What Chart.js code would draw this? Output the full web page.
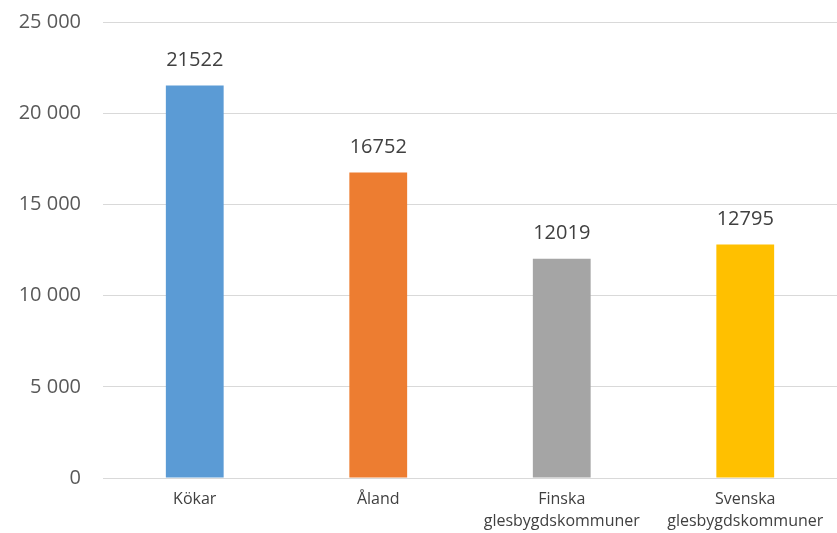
<!DOCTYPE html>
<html><head><meta charset="utf-8">
<script src="https://cdn.jsdelivr.net/npm/chart.js@4/dist/chart.umd.min.js"></script>
<style>html,body{margin:0;padding:0;background:#fff}#wrap{width:837px;height:533px}</style>
</head><body><div id="wrap"><canvas id="c" width="837" height="533"></canvas></div>
<script>
const categories = [["Kökar"], ["Åland"], ["Finska", "glesbygdskommuner"], ["Svenska", "glesbygdskommuner"]];
const values = [21522, 16752, 12019, 12795];
const barColors = ["#5b9bd5", "#ed7d31", "#a5a5a5", "#ffc000"];
const yTicks = [0, 5000, 10000, 15000, 20000, 25000];

const fmt = v => String(v).replace(/\B(?=(\d{3})+(?!\d))/g, " ");

const labelPlugin = {
  id: 'valLabels',
  afterDatasetsDraw(chart) {
    const ctx = chart.ctx;
    const meta = chart.getDatasetMeta(0);
    ctx.save();
    ctx.font = '20px "Open Sans", sans-serif';
    ctx.fillStyle = '#404040';
    ctx.textAlign = 'center';
    ctx.textBaseline = 'bottom';
    meta.data.forEach((bar, i) => {
      ctx.fillText(String(values[i]), bar.x, bar.y - 15);
    });
    ctx.restore();
  }
};

new Chart(document.getElementById('c'), {
  type: 'bar',
  data: { labels: categories, datasets: [{ data: values, backgroundColor: barColors, categoryPercentage: 1, barPercentage: 0.315 }] },
  options: {
    responsive: false, animation: false,
    layout: { padding: { top: 22, right: 0, bottom: 0, left: 0 } },
    plugins: { legend: { display: false }, tooltip: { enabled: false } },
    scales: {
      x: {
        afterFit(axis) { axis.height = 55; axis.paddingLeft = 0; axis.paddingRight = 0; },
        grid: { display: false, drawTicks: false },
        border: { color: '#d9d9d9', width: 1 },
        ticks: { color: '#404040', font: { family: '"Open Sans", sans-serif', size: 16, lineHeight: 1.35 }, padding: 11, maxRotation: 0, autoSkip: false }
      },
      y: {
        min: 0, max: 25000,
        afterBuildTicks(axis) { axis.ticks = yTicks.map(v => ({ value: v })); },
        afterFit(axis) { axis.width = 103; axis.paddingTop = 0; axis.paddingBottom = 0; },
        grid: { color: '#d9d9d9', drawTicks: false },
        border: { display: false },
        ticks: { color: '#595959', font: { family: '"Open Sans", sans-serif', size: 20 }, padding: 22, callback: v => fmt(v) }
      }
    }
  },
  plugins: [labelPlugin]
});
</script></body></html>
